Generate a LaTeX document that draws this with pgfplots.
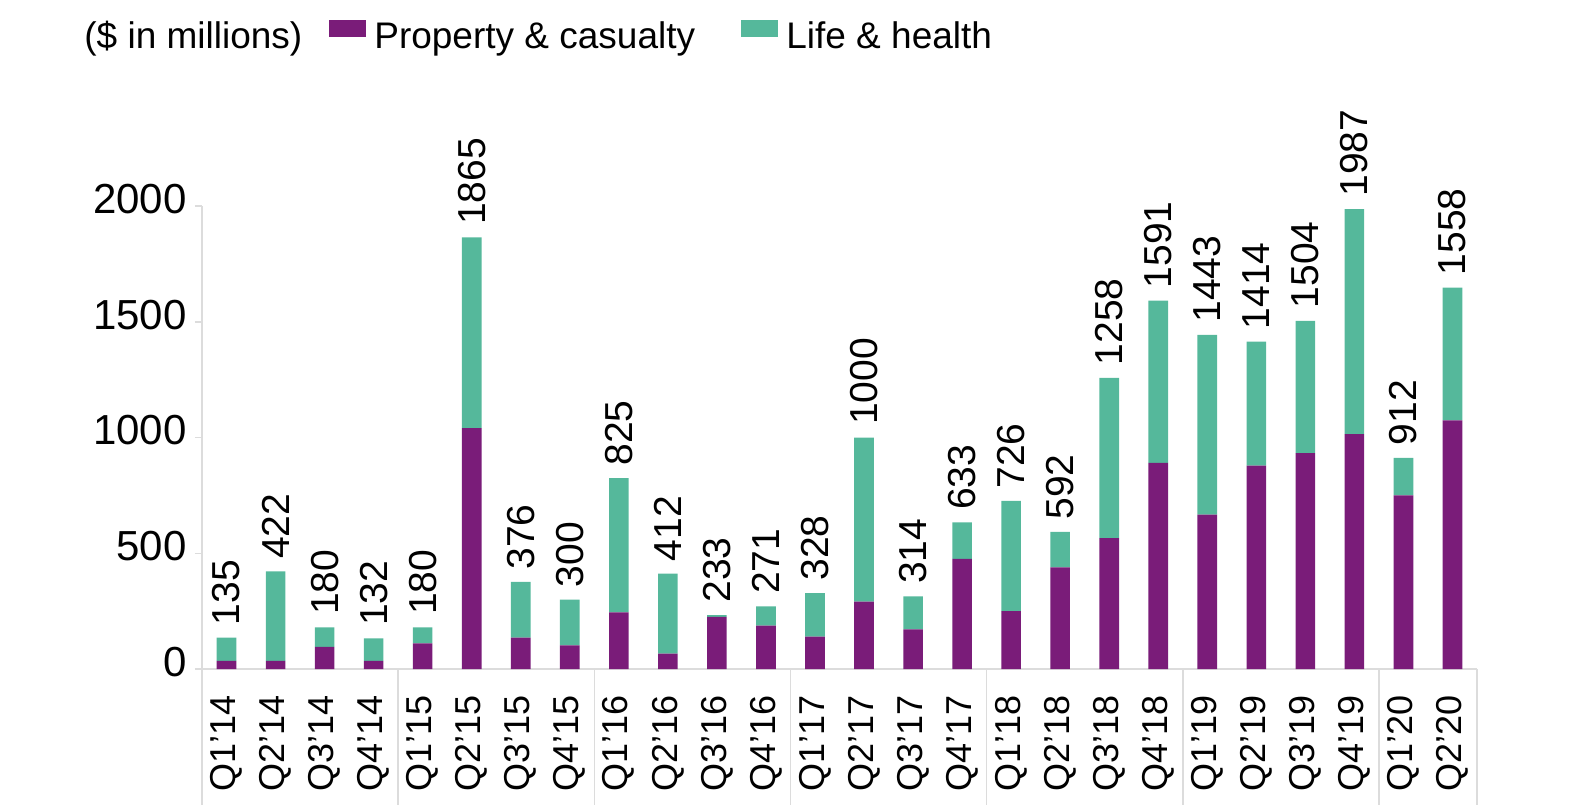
\documentclass[border=0pt]{standalone}
\usepackage{fontspec}
\setmainfont{Liberation Sans}
\usepackage{pgfplots}
\usepackage{pgfplotstable}
\pgfplotsset{compat=1.18}
\definecolor{pc}{HTML}{7A1C79}
\definecolor{lh}{HTML}{55B89B}
\definecolor{sep}{HTML}{DCDCDC}
\pgfplotstableread{
x pc lh cap label
0 35 100 1 135
1 35 387 1 422
2 96 84 1 180
3 35 97 1 132
4 111 69 1 180
5 1040 825 1 1865
6 135 241 1 376
7 102 198 1 300
8 245 580 1 825
9 66 346 1 412
10 225 8 1 233
11 187 84 1 271
12 140 188 1 328
13 291 709 1 1000
14 171 143 1 314
15 476 157 1 633
16 250 476 1 726
17 439 153 1 592
18 565 693 1 1258
19 890 701 1 1591
20 667 776 1 1443
21 878 536 1 1414
22 932 572 1 1504
23 1015 972 1 1987
24 750 162 1 912
25 1074 573 1 1558
}\data
\begin{document}
\begin{tikzpicture}
\path[use as bounding box] (0,0) rectangle (785pt,402pt);
\begin{axis}[
  at={(101pt,67.5pt)}, anchor=south west,
  scale only axis, width=637.5pt, height=231.5pt,
  xmin=-0.5, xmax=25.5, ymin=0, ymax=2000,
  enlargelimits=false, clip=false,
  ybar stacked, bar width=0.4,
  axis x line*=bottom, axis y line*=left,
  x axis line style={draw=sep, line width=0.75pt},
  y axis line style={draw=sep, line width=0.75pt},
  xtick=data,
  xticklabels={Q1'14,Q2'14,Q3'14,Q4'14,Q1'15,Q2'15,Q3'15,Q4'15,Q1'16,Q2'16,Q3'16,Q4'16,Q1'17,Q2'17,Q3'17,Q4'17,Q1'18,Q2'18,Q3'18,Q4'18,Q1'19,Q2'19,Q3'19,Q4'19,Q1'20,Q2'20},
  xtick style={draw=none},
  xticklabel style={rotate=90, anchor=east, inner sep=0pt, font=\fontsize{18}{20}\selectfont},
  xticklabel shift=9.5pt,
  ytick={0,500,1000,1500,2000},
  ytick style={draw=sep, line width=0.75pt},
  tick align=outside, major tick length=3.5pt,
  yticklabel style={inner sep=0pt, font=\fontsize{21}{22}\selectfont, yshift=3.5pt},
  yticklabel shift=4pt,
  /pgf/number format/assume math mode=true,
  /pgf/number format/set thousands separator={},
  legend columns=-1,
  legend style={at={(0,1)}, anchor=south west, xshift=-63pt, yshift=77pt,
    draw=none, fill=none, inner sep=0pt,
    font=\fontsize{18.5}{20}\selectfont,
    nodes={inner sep=0pt},
    /tikz/every odd column/.append style={column sep=4pt},
    /tikz/every even column/.append style={column sep=13.5pt}},
  legend image code/.code={\fill[#1] (0pt,-0.5pt) rectangle (18.5pt,8pt);},
]
\addlegendimage{empty legend}
\addlegendentry{(\$ in millions)}
\addplot[fill=pc, draw=none] table[x=x, y=pc] {\data};
\addlegendentry{\makebox[170pt][l]{Property \& casualty}}
\addplot[fill=lh, draw=none] table[x=x, y=lh] {\data};
\addlegendentry{Life \& health}
\addplot[draw=none, fill=none, forget plot,
  nodes near coords, point meta=explicit symbolic,
  every node near coord/.append style={rotate=90, anchor=west, inner ysep=0pt, inner xsep=6pt, font=\fontsize{19.5}{20}\selectfont, text=black}
  ] table[x=x, y=cap, meta=label] {\data};
\pgfplotsinvokeforeach{-0.5,3.5,7.5,11.5,15.5,19.5,23.5,25.5}{
  \draw[sep, line width=0.75pt] (axis cs:#1,0) -- (axis cs:#1,-600);
}
\end{axis}
\end{tikzpicture}
\end{document}
